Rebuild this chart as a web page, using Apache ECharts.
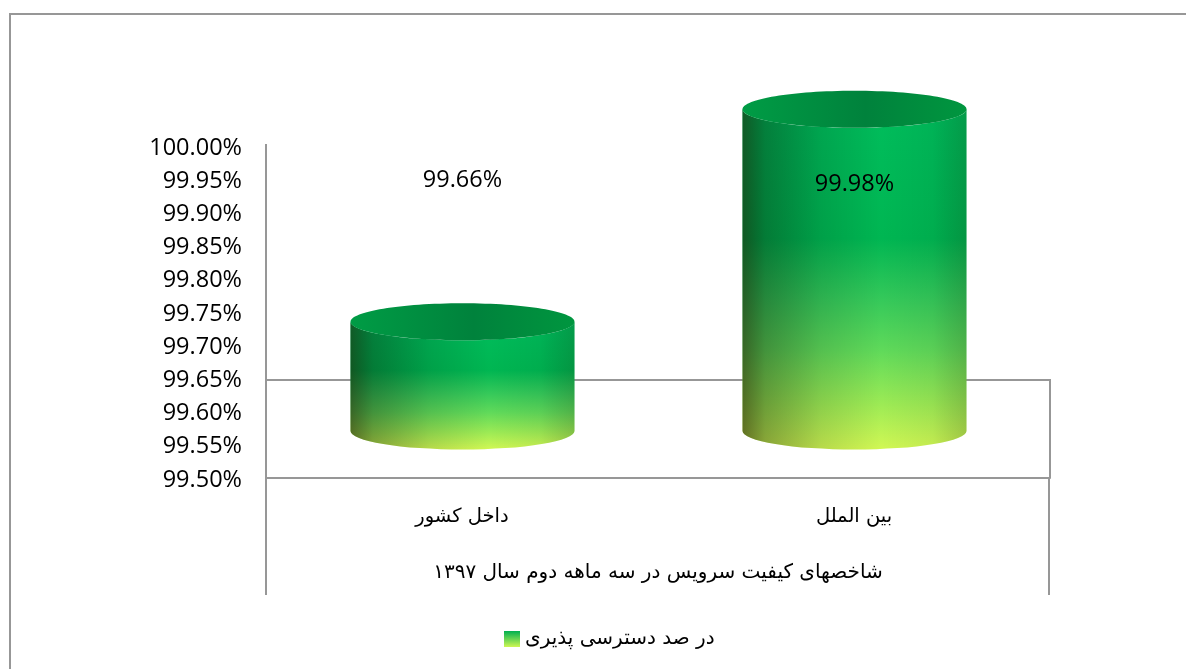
<!DOCTYPE html>
<html>

<head>
    <meta charset="UTF-8">
    <title>Availability</title>
    <script src="https://cdn.jsdelivr.net/npm/echarts@6/dist/echarts.min.js"></script>
    <style>
        body { margin: 0; background: #fff; }
    </style>
</head>

<body>
    <div id="chart" style="width: 1186px;height:669px;"></div>
    <script type="text/javascript">
        var myChart = echarts.init(document.getElementById('chart'));

        // Values
        var categories = ['داخل کشور', 'بین الملل'];
        var availability = [99.66, 99.98];
        var seriesName = 'در صد دسترسی پذیری';
        var axisTitle = 'شاخصهای کیفیت سرویس در سه ماهه دوم سال ۱۳۹۷';

        var persianFont = '"DejaVu Sans", "Noto Sans", sans-serif';
        var latinFont = '"Open Sans", "Noto Sans", sans-serif';
        var lineColor = '#979797';

        // 3D look of the cylinders, in pixels
        var topLift = 50;      // top ellipse sits this far above the value
        var baseLift = 47;     // base ellipse sits this far above the axis
        var halfWidth = 112;
        var ry = 18.5;
        var labelY = [180, 184];   // labels were dragged by hand in the original

        function bodyGradient() {
            return new echarts.graphic.LinearGradient(0, 0, 0, 1, [
                { offset: 0, color: '#00bd5c' },
                { offset: 0.38, color: '#00b652' },
                { offset: 0.56, color: '#35c95a' },
                { offset: 0.71, color: '#60da5a' },
                { offset: 0.86, color: '#9aea55' },
                { offset: 1, color: '#d2f854' }
            ]);
        }

        function renderCylinder(params, api) {
            var point = api.coord([api.value(0), api.value(1)]);
            var x = point[0] + 0.5;
            var top = point[1] - topLift;
            var bottom = api.coord([api.value(0), 99.5])[1] - baseLift;
            var l = x - halfWidth, r = x + halfWidth;
            var arc = 'A' + halfWidth + ' ' + ry + ' 0 0 ';
            var bodyPath = 'M' + l + ' ' + top + arc + '0 ' + r + ' ' + top +
                'L' + r + ' ' + bottom + arc + '1 ' + l + ' ' + bottom + 'Z';
            return {
                type: 'group',
                children: [
                    {
                        type: 'path',
                        shape: { pathData: bodyPath },
                        style: { fill: bodyGradient() }
                    },
                    {
                        // side shading, dark at the left edge
                        type: 'path',
                        shape: { pathData: bodyPath },
                        style: {
                            fill: new echarts.graphic.LinearGradient(0, 0, 1, 0, [
                                { offset: 0, color: 'rgba(30,20,0,0.58)' },
                                { offset: 0.1, color: 'rgba(10,10,0,0.34)' },
                                { offset: 0.35, color: 'rgba(0,0,0,0.12)' },
                                { offset: 0.62, color: 'rgba(0,0,0,0)' },
                                { offset: 0.85, color: 'rgba(0,0,0,0.05)' },
                                { offset: 1, color: 'rgba(20,20,0,0.2)' }
                            ])
                        }
                    },
                    {
                        type: 'ellipse',
                        shape: { cx: x, cy: top, rx: halfWidth, ry: ry },
                        style: {
                            fill: new echarts.graphic.LinearGradient(0, 0, 1, 0, [
                                { offset: 0, color: '#009c45' },
                                { offset: 0.55, color: '#00823c' },
                                { offset: 1, color: '#00963f' }
                            ])
                        }
                    },
                    {
                        type: 'text',
                        style: {
                            x: x,
                            y: labelY[params.dataIndex],
                            text: availability[params.dataIndex].toFixed(2) + '%',
                            align: 'center',
                            verticalAlign: 'middle',
                            fill: '#000',
                            font: '23.5px ' + latinFont
                        }
                    }
                ]
            };
        }

        var option = {
            animation: false,
            backgroundColor: '#fff',
            grid: { left: 266, right: 136, top: 146, height: 332 },
            legend: {
                left: 499,
                top: 624,
                data: [{
                    name: seriesName,
                    icon: 'rect',
                    itemStyle: {
                        color: new echarts.graphic.LinearGradient(0, 0, 0, 1, [
                            { offset: 0, color: '#00b050' },
                            { offset: 1, color: '#cff754' }
                        ])
                    }
                }],
                itemWidth: 16,
                itemHeight: 16,
                itemGap: 6,
                textStyle: { fontFamily: persianFont, fontSize: 20, color: '#000' }
            },
            xAxis: {
                type: 'category',
                data: categories,
                name: axisTitle,
                nameLocation: 'middle',
                nameGap: 85,
                nameTextStyle: { fontFamily: persianFont, fontSize: 20, color: '#000' },
                axisTick: { show: false },
                axisLine: { lineStyle: { color: lineColor, width: 2 } },
                axisLabel: { margin: 29, fontFamily: persianFont, fontSize: 19.5, color: '#000' }
            },
            yAxis: {
                type: 'value',
                min: 99.5,
                max: 100,
                interval: 0.05,
                splitLine: { show: false },
                axisTick: { show: false },
                axisLine: { show: true, lineStyle: { color: lineColor, width: 2 } },
                axisLabel: {
                    margin: 24,
                    fontFamily: latinFont,
                    fontSize: 23.5,
                    color: '#000',
                    verticalAlign: 'top',
                    lineHeight: 4,
                    formatter: function (value) {
                        return value.toFixed(2) + '%';
                    }
                }
            },
            graphic: [
                // chart border (top and left only show in the picture) and the frame lines around the plot
                { type: 'polyline', z: 0, shape: { points: [[10, 669], [10, 14], [1186, 14]] }, style: { fill: 'none', stroke: lineColor, lineWidth: 2 } },
                { type: 'polyline', z: 0, shape: { points: [[266, 380], [1050, 380], [1050, 478]] }, style: { fill: 'none', stroke: lineColor, lineWidth: 2 } },
                { type: 'line', z: 0, shape: { x1: 266, y1: 144, x2: 266, y2: 595 }, style: { stroke: lineColor, lineWidth: 2 } },
                { type: 'line', z: 0, shape: { x1: 1049, y1: 478, x2: 1049, y2: 595 }, style: { stroke: lineColor, lineWidth: 2 } }
            ],
            series: [
                {
                    name: seriesName,
                    type: 'custom',
                    z: 5,
                    renderItem: renderCylinder,
                    encode: { x: 0, y: 1 },
                    data: availability.map(function (v, i) { return [i, v]; })
                }
            ]
        };

        myChart.setOption(option);
    </script>
</body>

</html>
